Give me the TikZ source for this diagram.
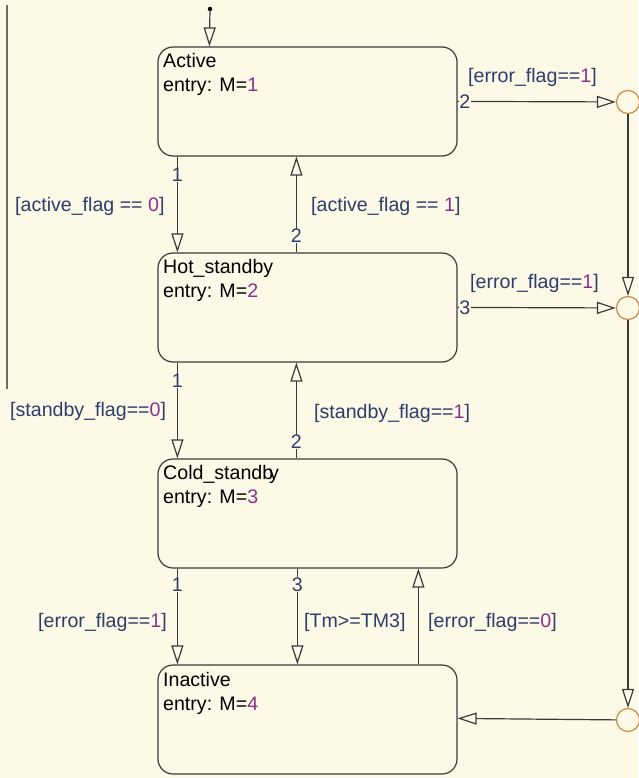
\documentclass[tikz,border=0pt]{standalone}
\usepackage{fontspec}
\setmainfont{Liberation Sans}
\usetikzlibrary{arrows.meta}
\definecolor{bg}{HTML}{FDF9E7}
\definecolor{navy}{HTML}{2E3D6B}
\definecolor{num}{HTML}{8B2F8F}
\definecolor{junc}{HTML}{C98B45}
\definecolor{ink}{HTML}{3A3A3A}
\begin{document}
\begin{tikzpicture}[x=1pt,y=-1pt,
  font=\fontsize{19.6}{23.5}\selectfont,
  state/.style={draw=ink,line width=1.2pt,rounded corners=15pt,
    minimum width=299pt,minimum height=109pt,inner sep=0pt},
  stxt/.style={anchor=north west,align=left,inner sep=0pt,text=black},
  tr/.style={draw=ink,line width=1.2pt,
    -{Triangle[open,length=19pt,width=12pt,line width=1.2pt]}},
  guard/.style={text=navy,inner sep=0pt},
  tag/.style={text=navy,fill=bg,inner sep=0.5pt},
  junction/.style={circle,draw=junc,line width=1.2pt,minimum size=23pt,inner sep=0pt}]
  % canvas
  \fill[bg] (0,0) rectangle (638,778);
  \useasboundingbox (0,0) rectangle (638,778);
  \draw[gray!85!black,line width=2pt] (7,5) -- (7,389);

  % states
  \node[state] (act) at (307.5,101.5) {};
  \node[state] (hot) at (307.5,307.5) {};
  \node[state] (cold) at (307.5,513.5) {};
  \node[state] (ina) at (307.5,719.5) {};
  \node[stxt] (actt) at (163,53.5) {Active\\entry: M=\textcolor{num}{1}};
  \node[stxt] (hott) at (163,259.5) {Hot\_standby\\entry: M=\textcolor{num}{2}};
  \node[stxt] (coldt) at (163,465.5) {Cold\_standb\kern-4pt y\\entry: M=\textcolor{num}{3}};
  \node[stxt] (inat) at (163,672.5) {Inactive\\entry: M=\textcolor{num}{4}};

  % junctions
  \node[junction] (j1) at (628,102) {};
  \node[junction] (j2) at (628,308) {};
  \node[junction] (j3) at (628,720) {};

  % default transition
  \node[circle,fill=black,inner sep=0pt,minimum size=4.5pt] (dot) at (210,9) {};
  \draw[tr] (dot) -- ([xshift=52pt]act.north west);

  % Active <-> Hot_standby
  \draw[tr] ([xshift=20pt]act.south west) -- node[tag,pos=0.19]{1} ([xshift=20pt]hot.north west);
  \draw[tr] ([xshift=139pt]hot.north west) -- node[tag,pos=0.17]{2} ([xshift=139pt]act.south west);
  \node[guard,anchor=west] (g1) at (15,206) {[active\_flag == \textcolor{num}{0}]};
  \node[guard,anchor=west] (g2) at (311,206) {[active\_flag == \textcolor{num}{1}]};

  % Hot_standby <-> Cold_standby
  \draw[tr] ([xshift=20pt]hot.south west) -- node[tag,pos=0.19]{1} ([xshift=20pt]cold.north west);
  \draw[tr] ([xshift=139pt]cold.north west) -- node[tag,pos=0.17]{2} ([xshift=139pt]hot.south west);
  \node[guard,anchor=west] (g3) at (10,411) {[standby\_flag==\textcolor{num}{0}]};
  \node[guard,anchor=west] (g4) at (314,413) {[standby\_flag==\textcolor{num}{1}]};

  % Cold_standby <-> Inactive
  \draw[tr] ([xshift=20pt]cold.south west) -- node[tag,pos=0.17]{1} ([xshift=20pt]ina.north west);
  \draw[tr] ([xshift=140pt]cold.south west) -- node[tag,pos=0.17]{3} ([xshift=140pt]ina.north west);
  \draw[tr] ([xshift=261pt]ina.north west) -- ([xshift=261pt]cold.south west);
  \node[guard,anchor=west] (g5) at (38,622) {[error\_flag==\textcolor{num}{1}]};
  \node[guard,anchor=west] (g6) at (304,622) {[Tm>=TM3]};
  \node[guard,anchor=west] (g7) at (428,622) {[error\_flag==\textcolor{num}{0}]};

  % error transitions through the junctions
  \draw[tr] ([yshift=-55pt]act.north east) -- node[tag,pos=0.045]{2} (j1);
  \draw[tr] ([yshift=-55pt]hot.north east) -- node[tag,pos=0.045]{3} (j2);
  \node[guard,anchor=west] (g8) at (468,77) {[error\_flag==\textcolor{num}{1}]};
  \node[guard,anchor=west] (g9) at (470,283) {[error\_flag==\textcolor{num}{1}]};
  \draw[tr] (j1) -- (j2);
  \draw[tr] (j2) -- (j3);
  \draw[tr] (j3) -- ([yshift=-54pt]ina.north east);
\end{tikzpicture}
\end{document}
